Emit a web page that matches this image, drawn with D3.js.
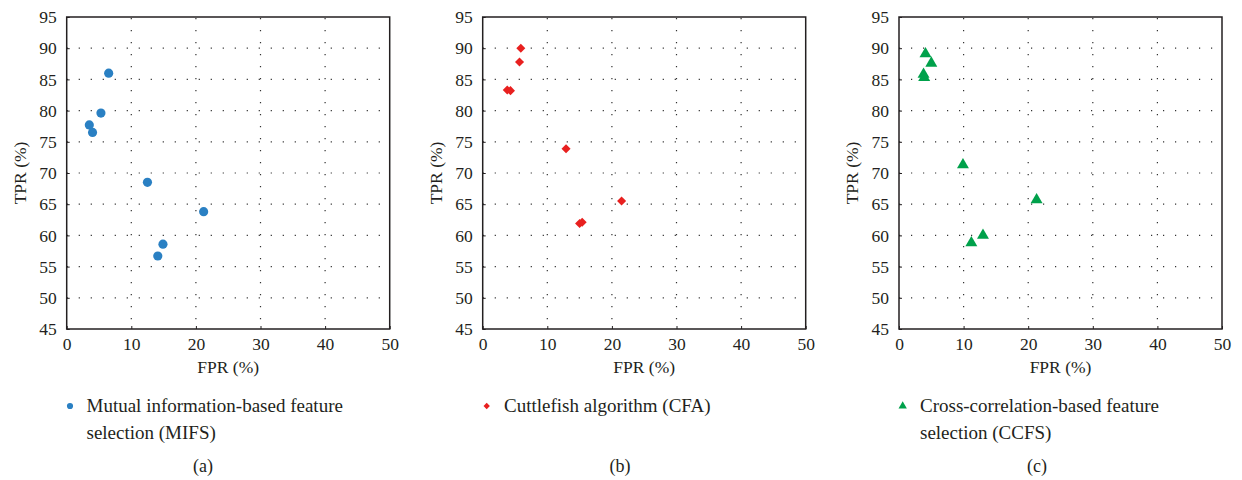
<!DOCTYPE html>
<html>
<head>
<meta charset="utf-8">
<script src="https://cdn.jsdelivr.net/npm/d3@7"></script>
<style>
  body { margin: 0; background: #fff; }
</style>
</head>
<body>
<svg width="1242" height="480" font-family="Liberation Serif" fill="#231f20"></svg>
<script>
// values (FPR %, TPR %)
const mifsFpr = [6.5, 5.3, 3.5, 4.0, 12.5, 21.2, 14.9, 14.1]
const mifsTpr = [86.0, 79.6, 77.7, 76.5, 68.5, 63.8, 58.6, 56.7]

const cfaFpr = [5.9, 5.7, 3.8, 4.3, 12.9, 15.0, 15.4, 21.5]
const cfaTpr = [90.0, 87.8, 83.3, 83.2, 73.9, 61.9, 62.1, 65.5]

const ccfsFpr = [4.1, 5.0, 3.8, 3.9, 9.9, 21.3, 11.2, 13.0]
const ccfsTpr = [89.1, 87.6, 85.8, 85.3, 71.3, 65.7, 58.8, 60.0]

const xTicks = [0, 10, 20, 30, 40, 50]
const yTicks = [45, 50, 55, 60, 65, 70, 75, 80, 85, 90, 95]

const legendLines = [
    ["Mutual information-based feature", "selection (MIFS)"],
    ["Cuttlefish algorithm (CFA)"],
    ["Cross-correlation-based feature", "selection (CCFS)"]
]
const captions = ["(a)", "(b)", "(c)"]
const colors = ["#2a80c3", "#e8201f", "#00a14b"]
const shapes = [d3.symbolCircle, d3.symbolDiamond2, d3.symbolTriangle]

const panels = [
    {fpr: mifsFpr, tpr: mifsTpr, left: 66.7, legendX: 70, textX: 86.5, capX: 203},
    {fpr: cfaFpr, tpr: cfaTpr, left: 482.7, legendX: 486.7, textX: 504, capX: 620},
    {fpr: ccfsFpr, tpr: ccfsTpr, left: 899, legendX: 902.7, textX: 920, capX: 1037}
]

const plotW = 323
const plotH = 312
const plotTop = 17
const font = "Liberation Serif"
const ink = "#231f20"

const svg = d3.select("svg")

panels.forEach(function (p, i) {

    const x = d3.scaleLinear().domain([0, 50]).range([0, plotW])
    const y = d3.scaleLinear().domain([45, 95]).range([plotH, 0])

    const g = svg.append("g")
        .attr("transform", `translate(${p.left}, ${plotTop})`)

    // dotted grid
    g.selectAll("line.vgrid")
        .data(xTicks.slice(1, -1))
        .enter()
        .append("line")
        .attr("x1", d => x(d)).attr("x2", d => x(d))
        .attr("y1", 0).attr("y2", plotH)
        .attr("stroke", "#333")
        .attr("stroke-width", 1.2)
        .attr("stroke-dasharray", "1.2,10.8")
        .attr("stroke-dashoffset", -13)

    g.selectAll("line.hgrid")
        .data(yTicks.slice(1, -1))
        .enter()
        .append("line")
        .attr("x1", 0).attr("x2", plotW)
        .attr("y1", d => y(d)).attr("y2", d => y(d))
        .attr("stroke", "#333")
        .attr("stroke-width", 1.2)
        .attr("stroke-dasharray", "1.2,10.8")
        .attr("stroke-dashoffset", -12)

    // axes
    const xAxis = g.append("g")
        .attr("transform", `translate(0, ${plotH})`)
        .call(d3.axisBottom(x).tickValues(xTicks).tickSize(-3).tickPadding(6))
    const yAxis = g.append("g")
        .call(d3.axisLeft(y).tickValues(yTicks).tickSize(-3).tickPadding(10))

    ;[xAxis, yAxis].forEach(function (a) {
        a.attr("font-family", font).attr("font-size", 17.5)
        a.select(".domain").remove()
        a.selectAll(".tick line").attr("stroke", ink)
        a.selectAll("text").attr("fill", ink)
    })
    xAxis.selectAll("text").attr("dy", "0.85em")

    g.append("rect")
        .attr("width", plotW)
        .attr("height", plotH)
        .attr("fill", "none")
        .attr("stroke", ink)
        .attr("stroke-width", 1.5)

    // axis titles
    g.append("text")
        .attr("x", plotW / 2)
        .attr("y", plotH + 44)
        .attr("text-anchor", "middle")
        .attr("font-size", 17.5)
        .text("FPR (%)")

    g.append("text")
        .attr("transform", `translate(${-41}, ${plotH / 2}) rotate(-90)`)
        .attr("text-anchor", "middle")
        .attr("font-size", 17.5)
        .text("TPR (%)")

    // points
    const symbol = d3.symbol().type(shapes[i]).size(i === 0 ? 66 : i === 1 ? 52 : 62)
    g.selectAll("path.pt")
        .data(d3.zip(p.fpr, p.tpr))
        .enter()
        .append("path")
        .attr("d", symbol)
        .attr("transform", d => `translate(${x(d[0])}, ${y(d[1])})`)
        .attr("fill", colors[i])

    // legend
    svg.append("path")
        .attr("d", d3.symbol().type(shapes[i]).size(i === 1 ? 26 : 30))
        .attr("transform", `translate(${p.legendX}, 406)`)
        .attr("fill", colors[i])

    const lt = svg.append("text")
        .attr("x", p.textX)
        .attr("y", 412)
        .attr("font-size", 19)
    lt.selectAll("tspan")
        .data(legendLines[i])
        .enter()
        .append("tspan")
        .attr("x", p.textX)
        .attr("dy", (d, j) => j === 0 ? 0 : 27)
        .text(d => d)

    svg.append("text")
        .attr("x", p.capX)
        .attr("y", 472)
        .attr("text-anchor", "middle")
        .attr("font-size", 18)
        .text(captions[i])
})
</script>
</body>
</html>
